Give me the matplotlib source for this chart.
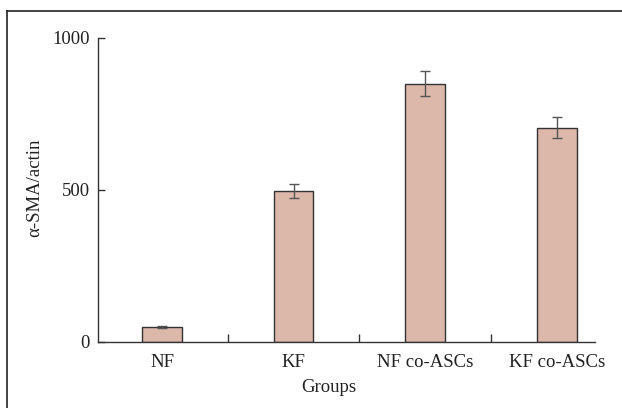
import matplotlib
matplotlib.use("Agg")
import matplotlib.pyplot as plt
from matplotlib.lines import Line2D

groups = ["NF", "KF", "NF co-ASCs", "KF co-ASCs"]
values = [48, 496, 850, 705]
errors = [3, 23, 42, 35]

plt.rcParams["font.family"] = ["Liberation Serif", "DejaVu Serif"]

fig = plt.figure(figsize=(6.22, 4.08), dpi=100)
ax = fig.add_axes([0.1576, 0.1618, 0.7990, 0.7451])

x = list(range(len(groups)))
ax.bar(x, values, width=0.30, color="#dbb8aa", edgecolor="#333333", linewidth=1.0)
ax.errorbar(x, values, yerr=errors, fmt="none", ecolor="#555555",
            elinewidth=1.0, capsize=3.5, capthick=1.0)

ax.set_xlim(-0.486, 3.29)
ax.set_ylim(0, 1000)
ax.set_yticks([0, 500, 1000])
ax.set_xticks(x)
ax.set_xticklabels(groups)
ax.set_xticks([0.5, 1.5, 2.5], minor=True)

for s in ["top", "right"]:
    ax.spines[s].set_visible(False)
for s in ["left", "bottom"]:
    ax.spines[s].set_color("#333333")
    ax.spines[s].set_linewidth(1.0)

ax.tick_params(axis="x", which="major", length=0, pad=9, labelsize=13.5, colors="#222222")
ax.tick_params(axis="x", which="minor", direction="in", length=6, width=1.0, color="#333333")
ax.tick_params(axis="y", direction="in", length=5, width=1.0, pad=6, labelsize=13.5,
               colors="#222222", color="#333333")

fig.text(35 / 622, 1 - 188 / 408, "α-SMA/actin", rotation=90, ha="center", va="center",
         fontsize=13.5, color="#222222")
fig.text(329 / 622, 1 - 387 / 408, "Groups", ha="center", va="center",
         fontsize=13.5, color="#222222")

# frame around the figure (only left and top edges visible in the crop)
fig.add_artist(Line2D([7 / 622, 7 / 622], [0, 1 - 11 / 408], transform=fig.transFigure,
                      color="#222222", linewidth=1.2))
fig.add_artist(Line2D([7 / 622, 1], [1 - 11 / 408, 1 - 11 / 408], transform=fig.transFigure,
                      color="#222222", linewidth=1.2))

fig.savefig("out.png", dpi=100)
